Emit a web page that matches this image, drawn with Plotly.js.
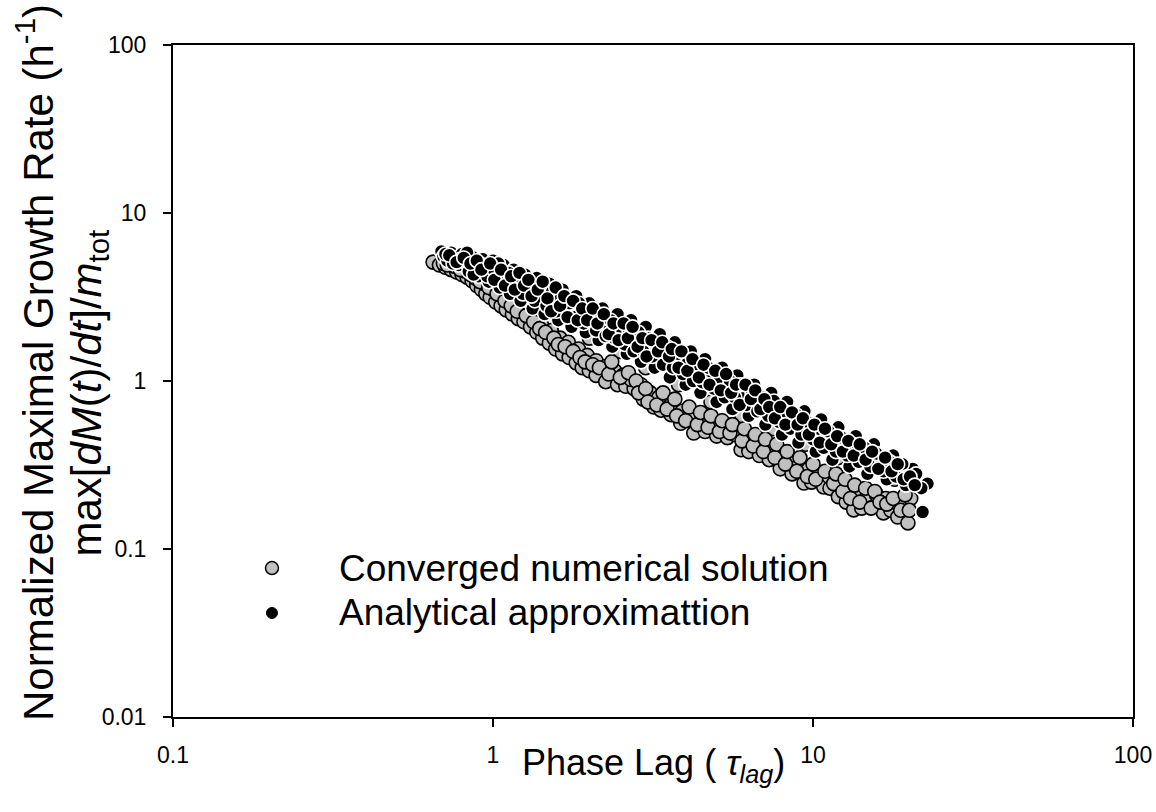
<!DOCTYPE html>
<html>
<head>
<meta charset="utf-8">
<script src="https://cdn.plot.ly/plotly-3.0.1.min.js"></script>
<style>html,body{margin:0;padding:0;background:#fff;}#chart{width:1156px;height:812px;}</style>
</head>
<body>
<div id="chart"></div>
<script>
// Converged numerical solution (gray)
const numX = [0.65,0.68,0.71,0.74,0.77,0.80,0.83,0.86,0.89,0.92,0.95,0.98,1.02,1.06,1.10,1.15,1.20,1.25,1.31,1.37,1.43,1.50,1.57,1.65,1.73,1.82,1.90,2.00,2.10,2.25,2.45,2.60,2.76,2.95,3.18,3.35,3.60,3.86,4.24,4.60,5.00,5.40,5.96,6.30,6.80,7.30,7.90,8.60,9.37,9.90,10.8,11.3,12.0,12.7,13.4,14.2,15.0,15.8,16.6,17.5,18.4,19.8,
  0.70,0.76,0.82,0.88,0.94,1.00,1.08,1.16,1.24,1.33,1.42,1.52,1.62,1.72,1.85,1.97,2.10,2.25,2.40,2.55,2.70,2.90,3.10,3.30,3.60,3.90,4.20,4.50,4.90,5.30,5.70,6.20,6.70,7.20,7.80,8.40,9.00,9.70,10.4,11.2,12.0,12.9,13.8,14.8,15.8,16.9,18.0,19.2,20.2,
  0.90,1.10,1.30,1.60,2.00,2.50,3.00,3.80,4.80,6.00,7.50,9.50,12.0,15.0,18.0,
  0.72,0.79,0.85,0.91,0.97,1.03,1.09,1.14,1.19,1.27,1.34,1.40,1.46,1.55,1.60,1.68,1.78,1.87,1.94,2.05,2.15,2.30,2.35,2.50,2.65,2.80,2.85,3.00,3.05,3.25,3.40,3.50,3.70,3.75,4.00,4.10,4.35,4.45,4.70,4.80,5.10,5.20,5.50,5.60,6.00,6.10,6.50,6.60,7.00,7.10,7.60,7.70,8.20,8.30,8.90,9.10,9.60,10.0,10.2,10.9,11.6,11.8,12.4,12.6,13.1,13.5,14.0,14.6,15.2,15.6,16.2,17.0,17.8,18.8,19.4,20.0];
const numY = [5.1,4.9,4.75,4.6,4.45,4.3,4.15,3.95,3.7,3.5,3.3,3.15,2.95,2.8,2.65,2.5,2.35,2.25,2.1,1.95,1.8,1.68,1.55,1.45,1.38,1.28,1.2,1.15,1.08,0.99,0.95,0.93,0.90,0.78,0.70,0.67,0.63,0.56,0.49,0.50,0.47,0.46,0.39,0.38,0.36,0.34,0.30,0.28,0.247,0.25,0.234,0.23,0.205,0.19,0.171,0.175,0.19,0.18,0.164,0.17,0.155,0.143,
  5.0,4.8,4.5,4.1,3.8,3.5,3.2,2.9,2.65,2.4,2.15,2.0,1.8,1.7,1.55,1.42,1.32,1.22,1.15,1.08,1.02,0.95,0.85,0.80,0.72,0.66,0.62,0.58,0.55,0.52,0.48,0.45,0.42,0.40,0.36,0.34,0.31,0.30,0.28,0.27,0.25,0.23,0.22,0.21,0.21,0.20,0.19,0.18,0.20,
  4.8,3.8,3.0,2.4,1.8,1.5,1.2,0.95,0.75,0.62,0.52,0.42,0.35,0.30,0.26,
  4.9,4.6,4.3,3.9,3.6,3.3,3.0,2.8,2.6,2.45,2.25,2.05,1.95,1.8,1.65,1.6,1.5,1.38,1.3,1.25,1.2,1.1,1.3,1.05,1.12,1.0,0.85,0.9,0.75,0.72,0.85,0.68,0.78,0.62,0.58,0.7,0.55,0.65,0.53,0.62,0.5,0.58,0.49,0.55,0.44,0.52,0.41,0.48,0.38,0.45,0.35,0.42,0.32,0.38,0.29,0.35,0.27,0.32,0.26,0.29,0.245,0.28,0.22,0.26,0.2,0.24,0.19,0.23,0.175,0.22,0.19,0.185,0.2,0.17,0.21,0.17];

// Analytical approximation (black)
const anaX = [0.69,0.70,0.72,0.74,0.76,0.78,0.80,0.82,0.84,0.86,0.88,0.90,0.93,0.95,0.97,1.00,1.02,1.05,1.08,1.10,1.13,1.16,1.19,1.22,1.26,1.30,1.33,1.37,1.41,1.45,1.50,1.55,1.60,1.65,1.70,1.76,1.82,1.88,1.95,2.00,2.07,2.14,2.20,2.28,2.36,2.45,2.53,2.62,2.70,2.80,2.90,3.00,3.10,3.20,3.32,3.45,3.57,3.70,3.85,4.00,4.15,4.30,4.45,4.60,4.80,5.00,5.20,5.40,5.60,5.80,6.05,6.30,6.55,6.80,7.10,7.40,7.70,8.00,8.30,8.70,9.00,9.40,9.80,10.2,10.6,11.0,11.5,12.0,12.5,13.0,13.6,14.2,14.8,15.5,16.2,17.0,17.8,18.6,19.5,20.5,21.5,22.8,22.0,
  0.71,0.75,0.79,0.83,0.87,0.91,0.96,0.99,1.04,1.07,1.12,1.18,1.24,1.28,1.35,1.40,1.47,1.53,1.58,1.63,1.73,1.80,1.86,1.92,2.03,2.10,2.18,2.25,2.33,2.40,2.50,2.58,2.66,2.75,2.85,2.95,3.05,3.15,3.25,3.40,3.50,3.65,3.78,3.92,4.08,4.22,4.38,4.52,4.70,4.90,5.10,5.30,5.50,5.70,5.95,6.20,6.45,6.70,6.95,7.25,7.55,7.85,8.15,8.50,8.85,9.20,9.60,10.0,10.4,10.8,11.2,11.8,12.3,12.8,13.3,13.9,14.5,15.1,15.8,16.6,17.4,18.2,19.0,19.8,21.0,21.8,
  0.73,0.77,0.81,0.85,0.89,0.92,0.98,1.01,1.06,1.09,1.14,1.17,1.21,1.25,1.29,1.32,1.38,1.43,1.48,1.52,1.57,1.62,1.67,1.71,1.78,1.84,1.90,1.97,2.05,2.12,2.22,2.30,2.38,2.47,2.56,2.64,2.73,2.83,2.93,3.02,3.13,3.28,3.38,3.55,3.62,3.80,3.88,4.05,4.20,4.40,4.55,4.75,4.95,5.15,5.35,5.55,5.75,5.90,6.15,6.40,6.60,6.85,7.05,7.30,7.60,7.90,8.20,8.60,8.95,9.30,9.70,10.1,10.5,10.9,11.4,11.9,12.4,12.9,13.4,14.0,14.6,15.3,16.0,16.8,17.6,18.4,19.2,20.1,20.8];
const anaY = [5.9,5.5,5.2,5.8,5.4,4.9,5.7,5.1,4.5,5.5,4.8,4.2,5.3,4.6,3.9,5.2,4.4,3.6,4.9,4.0,3.3,4.6,3.7,3.0,4.3,3.5,2.7,4.1,3.2,2.5,3.8,3.0,2.3,3.5,2.7,2.1,3.2,2.5,1.95,2.9,2.3,1.75,2.7,2.1,1.6,2.5,1.9,1.45,2.3,1.75,1.3,2.1,1.6,1.2,1.9,1.45,1.05,1.7,1.3,0.95,1.5,1.15,0.85,1.35,1.05,0.75,1.2,0.95,0.68,1.08,0.85,0.62,0.95,0.75,0.55,0.85,0.66,0.48,0.75,0.58,0.43,0.66,0.52,0.38,0.59,0.46,0.34,0.53,0.41,0.31,0.47,0.37,0.28,0.42,0.33,0.26,0.36,0.29,0.24,0.30,0.25,0.245,0.166,
  5.7,5.0,5.3,5.8,4.3,5.0,4.2,4.7,5.0,3.9,4.4,4.1,3.3,3.9,3.0,3.7,2.8,3.4,2.6,3.1,2.9,2.4,2.9,2.2,2.5,2.0,2.4,1.85,2.3,1.8,2.1,1.65,2.0,1.5,1.95,1.5,1.8,1.4,1.65,1.25,1.6,1.2,1.45,1.1,1.3,1.0,1.25,0.98,1.2,0.9,1.05,0.8,1.0,0.8,0.95,0.72,0.85,0.66,0.8,0.62,0.76,0.57,0.66,0.52,0.63,0.48,0.57,0.45,0.52,0.40,0.50,0.38,0.46,0.36,0.42,0.33,0.40,0.31,0.37,0.29,0.33,0.27,0.32,0.27,0.28,0.23,
  5.6,5.1,5.4,5.0,5.2,4.6,5.0,4.0,4.6,3.7,4.2,3.5,4.4,3.7,4.0,3.2,3.5,3.9,3.1,2.6,3.6,2.8,3.2,2.4,3.0,2.3,2.7,2.3,2.7,2.2,2.5,1.9,2.2,1.75,2.2,1.8,2.1,1.6,1.8,1.4,1.75,1.5,1.7,1.4,1.55,1.2,1.5,1.15,1.35,1.05,1.25,0.95,1.15,0.88,1.1,0.85,0.95,0.72,0.95,0.78,0.88,0.68,0.78,0.7,0.6,0.7,0.55,0.65,0.55,0.6,0.48,0.55,0.43,0.52,0.42,0.47,0.38,0.44,0.36,0.42,0.34,0.38,0.30,0.35,0.29,0.32,0.26,0.27,0.24];

const xTickVals = [0.1, 1, 10, 100];
const xTickText = ['0.1', '1', '10', '100'];
const yTickVals = [0.01, 0.1, 1, 10, 100];
const yTickText = ['0.01', '0.1', '1', '10', '100'];
const legendNames = ['Converged numerical solution', 'Analytical approximattion'];

const FONT = 'Arial, "Liberation Sans", sans-serif';

const traces = [
  {x: numX, y: numY, type: 'scatter', mode: 'markers', name: legendNames[0], showlegend: false,
   marker: {size: 14, color: '#c0c0c0', line: {color: '#000', width: 1.6}}},
  {x: anaX, y: anaY, type: 'scatter', mode: 'markers', name: legendNames[1], showlegend: false,
   marker: {size: 14, color: '#000', line: {color: '#fff', width: 1.6}}}
];

const axisCommon = {
  type: 'log', showgrid: false, zeroline: false,
  showline: true, linecolor: '#000', linewidth: 2, mirror: true,
  ticks: 'outside', ticklen: 8, tickwidth: 1.5, tickcolor: '#000',
  tickfont: {family: FONT, size: 23, color: '#000'}
};

const layout = {
  width: 1156, height: 812,
  margin: {l: 173, r: 23, t: 45, b: 95},
  paper_bgcolor: '#fff', plot_bgcolor: '#fff',
  showlegend: false,
  xaxis: Object.assign({}, axisCommon, {range: [-1, 2], tickvals: xTickVals, ticktext: xTickText, ticklabelstandoff: 8}),
  yaxis: Object.assign({}, axisCommon, {range: [-2, 2], tickvals: yTickVals, ticktext: yTickText, ticklabelstandoff: 12}),
  shapes: [
    {type: 'circle', xref: 'paper', yref: 'paper', xsizemode: 'pixel', ysizemode: 'pixel',
     xanchor: 0.1031, yanchor: 0.2217, x0: -6.5, x1: 6.5, y0: -6.5, y1: 6.5,
     fillcolor: '#c0c0c0', line: {color: '#000', width: 1.5}},
    {type: 'circle', xref: 'paper', yref: 'paper', xsizemode: 'pixel', ysizemode: 'pixel',
     xanchor: 0.1031, yanchor: 0.1548, x0: -5.5, x1: 5.5, y0: -5.5, y1: 5.5,
     fillcolor: '#000', line: {color: '#000', width: 1}}
  ],
  annotations: [
    {text: legendNames[0], xref: 'paper', yref: 'paper', x: 0.1708, y: 0.2217, xanchor: 'left', yanchor: 'middle', showarrow: false,
     font: {family: FONT, size: 37, color: '#000'}},
    {text: legendNames[1], xref: 'paper', yref: 'paper', x: 0.1708, y: 0.1548, xanchor: 'left', yanchor: 'middle', showarrow: false,
     font: {family: FONT, size: 37, color: '#000'}},
    {text: 'Phase Lag ( <i>τ</i><sub><i>lag</i></sub>)', xref: 'paper', yref: 'paper', x: 0.5, y: 0, yshift: -23, xanchor: 'center', yanchor: 'top', showarrow: false,
     font: {family: FONT, size: 36, color: '#000'}},
    {text: 'Normalized Maximal Growth Rate (h<sup>-1</sup>)', xref: 'paper', yref: 'paper', x: 0, xshift: -167, y: 0.5, yshift: 18, xanchor: 'left', yanchor: 'middle', textangle: -90, showarrow: false,
     font: {family: FONT, size: 42, color: '#000'}},
    {text: 'max[<i>dM</i>(<i>t</i>)/<i>dt</i>]/<i>m</i><sub>tot</sub>', xref: 'paper', yref: 'paper', x: 0, xshift: -113, y: 0.5, yshift: -12, xanchor: 'left', yanchor: 'middle', textangle: -90, showarrow: false,
     font: {family: FONT, size: 42, color: '#000'}}
  ]
};

Plotly.newPlot('chart', traces, layout, {staticPlot: true, displayModeBar: false});
</script>
</body>
</html>
